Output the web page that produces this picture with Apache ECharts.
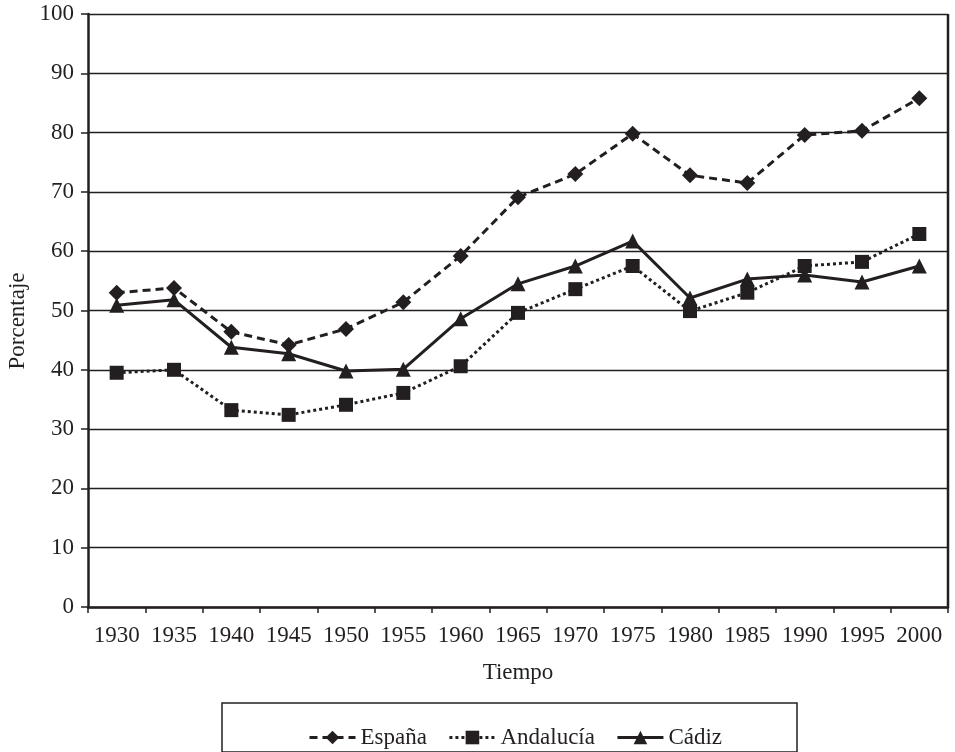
<!DOCTYPE html>
<html><head><meta charset="utf-8">
<script src="https://cdn.jsdelivr.net/npm/echarts@6/dist/echarts.min.js"></script>
<style>html,body{margin:0;padding:0;background:#fff}#c{width:955px;height:752px}</style>
</head><body><div id="c"></div>
<script>
const years = ['1930','1935','1940','1945','1950','1955','1960','1965','1970','1975','1980','1985','1990','1995','2000'];
const espana = [53, 53.8, 46.4, 44.2, 46.9, 51.4, 59.2, 69.1, 73, 79.8, 72.8, 71.5, 79.6, 80.3, 85.8];
const andalucia = [39.5, 40, 33.2, 32.4, 34.1, 36.1, 40.6, 49.6, 53.6, 57.5, 49.9, 53, 57.5, 58.2, 62.9];
const cadiz = [50.9, 51.8, 43.8, 42.7, 39.8, 40.1, 48.6, 54.5, 57.5, 61.7, 52.1, 55.3, 56, 54.8, 57.5];
const yTicks = {min: 0, max: 100, interval: 10};

const font = 'Liberation Serif';
const ink = '#231f20';
const fs = 23;
const chart = echarts.init(document.getElementById('c'));
chart.setOption({
  animation: false,
  textStyle: {fontFamily: font, color: ink},
  grid: {left: 88, right: 7, top: 14, bottom: 145, containLabel: false, outerBoundsMode: 'none'},
  xAxis: {
    type: 'category', data: years, boundaryGap: true,
    name: 'Tiempo', nameLocation: 'middle', nameGap: 54,
    nameTextStyle: {fontFamily: font, fontSize: fs, color: ink},
    axisLine: {lineStyle: {color: ink, width: 2.5}},
    axisTick: {show: true, length: 6, interval: 0, lineStyle: {color: ink, width: 1.5}},
    axisLabel: {interval: 0, hideOverlap: false, fontFamily: font, fontSize: fs, color: ink, margin: 17}
  },
  yAxis: {
    type: 'value', min: yTicks.min, max: yTicks.max, interval: yTicks.interval,
    axisLine: {show: true, lineStyle: {color: ink, width: 2.5}},
    axisTick: {show: true, length: 7, lineStyle: {color: ink, width: 1.5}},
    axisLabel: {fontFamily: font, fontSize: fs, color: ink, margin: 14},
    splitLine: {lineStyle: {color: ink, width: 1.3}}
  },
  legend: {
    top: 721, left: 303, itemGap: 21, itemWidth: 46, itemHeight: 17,
    lineStyle: {width: 3},
    textStyle: {fontFamily: font, fontSize: fs, color: ink},
    data: ['España', 'Andalucía', 'Cádiz']
  },
  graphic: [
    {type: 'rect', shape: {x: 222, y: 703, width: 575, height: 49}, style: {fill: 'none', stroke: ink, lineWidth: 1.5}, silent: true},
    {type: 'line', shape: {x1: 948, y1: 14, x2: 948, y2: 607}, style: {stroke: ink, lineWidth: 2.5}, silent: true},
    {type: 'text', x: 18, y: 321, rotation: Math.PI / 2, silent: true,
     style: {text: 'Porcentaje', font: fs + 'px "' + font + '"', fill: ink, textAlign: 'center', textVerticalAlign: 'middle'}}
  ],
  series: [
    {name: 'España', type: 'line', data: espana, symbol: 'diamond', symbolSize: 16,
     itemStyle: {color: ink}, lineStyle: {color: ink, width: 3, type: [8, 5]}},
    {name: 'Andalucía', type: 'line', data: andalucia, symbol: 'rect', symbolSize: 14,
     itemStyle: {color: ink}, lineStyle: {color: ink, width: 3, type: [3, 3]}},
    {name: 'Cádiz', type: 'line', data: cadiz, symbol: 'triangle', symbolSize: 15,
     itemStyle: {color: ink}, lineStyle: {color: ink, width: 3, type: 'solid'}}
  ]
});
</script></body></html>
